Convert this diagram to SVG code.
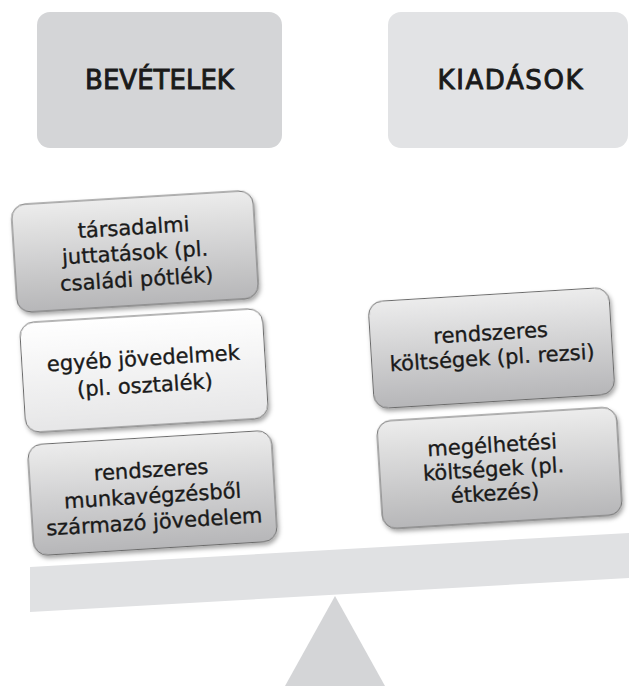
<svg xmlns="http://www.w3.org/2000/svg" width="629" height="686" viewBox="0 0 629 686">
  <defs>
    <style>
      .title { font-family: "DejaVu Sans", "Liberation Sans", sans-serif; font-size: 26px; fill: #1a1a1a; stroke: #1a1a1a; stroke-width: 0.9; text-anchor: middle; }
      .lbl { font-family: "DejaVu Sans", "Liberation Sans", sans-serif; font-size: 21px; fill: #1a1a1a; stroke: #1a1a1a; stroke-width: 0.35; text-anchor: middle; }
      .card { stroke: #6b6b6b; stroke-width: 1; filter: url(#shadow); }
      .gray { fill: url(#gGray); }
      .white { fill: url(#gWhite); }
    </style>
    <linearGradient id="gGray" x1="0" y1="0" x2="0" y2="1">
      <stop offset="0" stop-color="#ececec"/>
      <stop offset="1" stop-color="#b6b6b8"/>
    </linearGradient>
    <linearGradient id="gWhite" x1="0" y1="0" x2="0" y2="1">
      <stop offset="0" stop-color="#ffffff"/>
      <stop offset="1" stop-color="#e6e6e7"/>
    </linearGradient>
    <filter id="shadow" x="-10%" y="-10%" width="125%" height="130%">
      <feDropShadow dx="1.5" dy="3" stdDeviation="2" flood-color="#000" flood-opacity="0.35"/>
    </filter>
  </defs>

  <g id="scale">
    <polygon points="285,686 335,596 385,686" fill="#d4d5d7"/>
    <polygon points="30,567 629,533 629,578 30,612" fill="#e0e1e3"/>
  </g>

  <g id="bevetelek">
    <rect x="37" y="12" width="245" height="136" rx="13" fill="#d4d5d7"/>
    <text class="title" x="159.5" y="89">BEVÉTELEK</text>
  </g>

  <g id="kiadasok">
    <rect x="388" y="12" width="240" height="136" rx="13" fill="#e2e3e5"/>
    <text class="title" x="510" y="89" textLength="145" lengthAdjust="spacing">KIADÁSOK</text>
  </g>

  <g id="tarsadalmi" transform="translate(135,251.5) rotate(-3.5)">
    <rect class="card gray" x="-121" y="-54" width="242" height="108" rx="14"/>
    <text class="lbl" x="0" y="-17">társadalmi</text>
    <text class="lbl" x="0" y="8.5">juttatások (pl.</text>
    <text class="lbl" x="0" y="35">családi pótlék)</text>
  </g>

  <g id="egyeb" transform="translate(144,370.5) rotate(-3.5)">
    <rect class="card white" x="-121.5" y="-55" width="243" height="110" rx="14"/>
    <text class="lbl" x="0" y="-5">egyéb jövedelmek</text>
    <text class="lbl" x="0" y="22">(pl. osztalék)</text>
  </g>

  <g id="munka" transform="translate(152.5,493) rotate(-3.5)">
    <rect class="card gray" x="-122" y="-55.5" width="244" height="111" rx="14"/>
    <text class="lbl" x="0" y="-16">rendszeres</text>
    <text class="lbl" x="0" y="10">munkavégzésből</text>
    <text class="lbl" x="0" y="36">származó jövedelem</text>
  </g>

  <g id="rezsi" transform="translate(491.5,348) rotate(-3.5)">
    <rect class="card gray" x="-120.5" y="-53.5" width="241" height="107" rx="14"/>
    <text class="lbl" x="0" y="-8">rendszeres</text>
    <text class="lbl" x="0" y="17">költségek (pl. rezsi)</text>
  </g>

  <g id="megelhetesi" transform="translate(499.5,468) rotate(-3.5)">
    <rect class="card gray" x="-120" y="-54" width="240" height="108" rx="14"/>
    <text class="lbl" x="-6" y="-16">megélhetési</text>
    <text class="lbl" x="-6" y="8">költségek (pl.</text>
    <text class="lbl" x="-6" y="32">étkezés)</text>
  </g>

  <g id="connectors"/>
</svg>
